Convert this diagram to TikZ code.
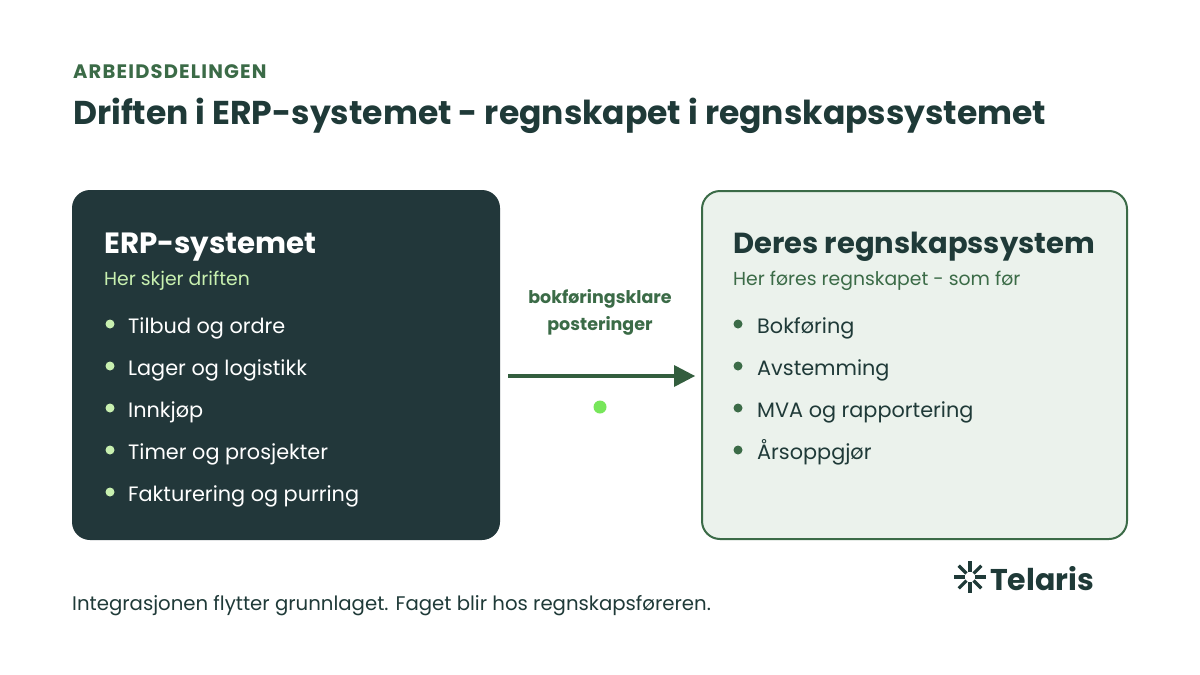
\documentclass[tikz,border=0pt]{standalone}
\usepackage{fontspec}
\setmainfont{Poppins}
\definecolor{dark}{HTML}{22373A}
\definecolor{ink}{HTML}{1F3A38}
\definecolor{grn}{HTML}{3B6B47}
\definecolor{lgrn}{HTML}{C8F0B0}
\definecolor{pale}{HTML}{EBF2EC}
\definecolor{arr}{HTML}{335E3E}
\definecolor{dot}{HTML}{77E65A}
\begin{document}
\begin{tikzpicture}[x=1pt,y=-1pt,
  txt/.style={anchor=base west,inner sep=0pt},
  bl/.style={txt,font=\fontsize{20.8}{24}\selectfont},
  blt/.style={circle,inner sep=0pt,minimum size=9pt}]
\useasboundingbox[fill=white] (0,0) rectangle (1200,675);
\node[txt,text=grn,font=\bfseries\fontsize{19.5}{22}\selectfont\addfontfeature{LetterSpace=6}] (hdr) at (73,78) {ARBEIDSDELINGEN};
\node[txt,text=ink,font=\bfseries\fontsize{33}{36}\selectfont] (title) at (73,124) {Driften i ERP-systemet - regnskapet i regnskapssystemet};
\draw[fill=dark,draw=none,rounded corners=18pt] (72,190) rectangle (500,540);
\node (lb) at (286,365) {};
\draw[fill=pale,draw=grn,line width=2pt,rounded corners=18pt] (702,191) rectangle (1127,539);
\node (rb) at (914,365) {};
\node[txt,text=white,font=\bfseries\fontsize{29.3}{32}\selectfont] (lt) at (104,253) {ERP-systemet};
\node[txt,text=lgrn,font=\fontsize{18.8}{22}\selectfont] (ls) at (104,285) {Her skjer driften};
\foreach \t [count=\i] in {Tilbud og ordre,Lager og logistikk,Innkjøp,Timer og prosjekter,Fakturering og purring}{
  \node[blt,fill=lgrn] (lb\i) at (110,{324+42*(\i-1)}) {};
  \node[bl,text=white] (l\i) at (128,{333+42*(\i-1)}) {\t};
}
\node[txt,text=ink,font=\bfseries\fontsize{29}{32}\selectfont] (rt) at (733,253) {Deres regnskapssystem};
\node[txt,text=grn,font=\fontsize{18.8}{22}\selectfont] (rs) at (733,285) {Her føres regnskapet - som før};
\foreach \t [count=\i] in {Bokføring,Avstemming,MVA og rapportering,Årsoppgjør}{
  \node[blt,fill=grn] (rb\i) at (738,{324+42*(\i-1)}) {};
  \node[bl,text=ink] (r\i) at (757,{333+42*(\i-1)}) {\t};
}
\node[text=grn,font=\bfseries\fontsize{17.5}{27}\selectfont,align=center] (lab) at (600,312) {bokføringsklare\\posteringer};
\coordinate (a1) at (508,376);
\coordinate (a2) at (695,376);
\draw[arr,line width=4pt] (a1) -- (674,376);
\fill[arr] (a2) -- (674,365) -- (674,387) -- cycle;
\node[circle,fill=dot,inner sep=0pt,minimum size=13pt] (d) at (600,407) {};
\node[txt,text=ink,font=\fontsize{19.7}{22}\selectfont] (foot) at (72,610) {Integrasjonen flytter grunnlaget. Faget blir hos regnskapsføreren.};
\node (star) at (970,577) {};
\foreach \a in {0,45,...,315}
  \draw[ink,line width=3.2pt] (970,577) ++(\a:5) -- ++(\a:11);
\node[txt,text=ink,font=\bfseries\fontsize{30}{34}\selectfont] (logo) at (990,590) {Telaris};
\end{tikzpicture}
\end{document}
